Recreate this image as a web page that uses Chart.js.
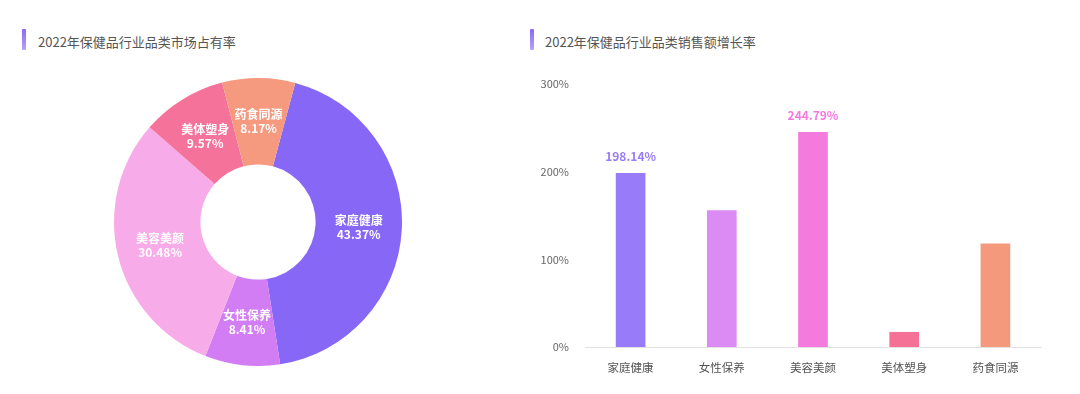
<!DOCTYPE html>
<html>
<head>
<meta charset="utf-8">
<script src="https://cdn.jsdelivr.net/npm/chart.js@4.4.1/dist/chart.umd.min.js"></script>
<style>
  body { margin: 0; width: 1080px; height: 394px; background: #fff; position: relative; overflow: hidden;
         font-family: "Noto Sans CJK SC", "Noto Sans", sans-serif; }
  .title { position: absolute; top: 33px; font-size: 13px; color: #555; line-height: 18px; }
  .bar { position: absolute; top: 29px; width: 4px; height: 21px; border-radius: 1px;
         background: linear-gradient(#8a68f5, #b7a3f9); }
  #pie { position: absolute; left: 114px; top: 78px; }
  #bars { position: absolute; left: 540px; top: 0; }
</style>
</head>
<body>
<div class="bar" style="left:22px"></div>
<div class="title" style="left:38px">2022年保健品行业品类市场占有率</div>
<div class="bar" style="left:530px"></div>
<div class="title" style="left:545px">2022年保健品行业品类销售额增长率</div>
<canvas id="pie" width="288" height="288"></canvas>
<canvas id="bars" width="540" height="394"></canvas>
<script>
// 品类
let categories = ['家庭健康', '女性保养', '美容美颜', '美体塑身', '药食同源'];
// 市场占有率 %
let shares = [43.37, 8.41, 30.48, 9.57, 8.17];
let pieColors = ['#8767f5', '#d27df4', '#f8abe9', '#f5739a', '#f59a7f'];
// 销售额增长率 %
let growth = [198.14, 155.5, 244.79, 16.8, 117.6];
let barColors = ['#977bf8', '#dc8bf5', '#f47ade', '#f57296', '#f5997c'];
let barLabels = ['198.14%', '', '244.79%', '', ''];
let yTicks = [0, 100, 200, 300];

const FONT = '"Noto Sans CJK SC", "Noto Sans", sans-serif';

// 环形图里的白色文字
const sliceLabels = {
    id: 'sliceLabels',
    afterDatasetsDraw(chart) {
        let ctx = chart.ctx;
        let meta = chart.getDatasetMeta(0);
        ctx.save();
        ctx.fillStyle = '#fff';
        ctx.textAlign = 'center';
        ctx.textBaseline = 'middle';
        ctx.font = '600 12px ' + FONT;
        meta.data.forEach((arc, i) => {
            let p = arc.tooltipPosition();
            ctx.fillText(categories[i], p.x, p.y - 7);
            ctx.fillText(shares[i].toFixed(2) + '%', p.x, p.y + 7);
        });
        ctx.restore();
    }
};

new Chart(document.getElementById('pie'), {
    type: 'doughnut',
    data: {
        labels: categories,
        datasets: [{ data: shares, backgroundColor: pieColors, borderWidth: 0 }]
    },
    options: {
        responsive: false,
        animation: false,
        rotation: 15,
        cutout: '40%',
        plugins: { legend: { display: false }, tooltip: { enabled: false } }
    },
    plugins: [sliceLabels]
});

// 柱子上方的数值
const barValueLabels = {
    id: 'barValueLabels',
    afterDatasetsDraw(chart) {
        let ctx = chart.ctx;
        let meta = chart.getDatasetMeta(0);
        ctx.save();
        ctx.textAlign = 'center';
        ctx.textBaseline = 'middle';
        ctx.font = 'bold 12px ' + FONT;
        meta.data.forEach((bar, i) => {
            if (!barLabels[i]) return;
            ctx.fillStyle = barColors[i];
            ctx.fillText(barLabels[i], bar.x, bar.y - 17);
        });
        ctx.restore();
    }
};

new Chart(document.getElementById('bars'), {
    type: 'bar',
    data: {
        labels: categories,
        datasets: [{ data: growth, backgroundColor: barColors, borderWidth: 0,
                     barThickness: 29 }]
    },
    options: {
        responsive: false,
        animation: false,
        layout: { padding: { top: 84, right: 39, bottom: 0, left: 0 } },
        plugins: { legend: { display: false }, tooltip: { enabled: false } },
        scales: {
            x: {
                grid: { display: false },
                border: { display: true, color: '#e2e2e2', width: 1 },
                ticks: { color: '#555', font: { family: FONT, size: 11.5 }, padding: 6 },
                afterFit(s) { s.height = 47; }
            },
            y: {
                min: 0, max: 300,
                grid: { display: false },
                border: { display: false },
                afterBuildTicks(s) { s.ticks = yTicks.map(v => ({ value: v })); },
                ticks: { color: '#666', font: { family: FONT, size: 11 }, padding: 8,
                         callback: v => v + '%' },
                afterFit(s) { s.width = 45; }
            }
        }
    },
    plugins: [barValueLabels]
});
</script>
</body>
</html>
